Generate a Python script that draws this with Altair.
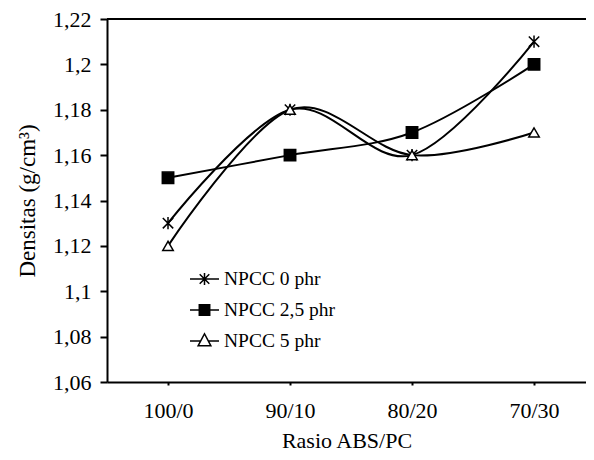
import altair as alt
import pandas as pd

categories = ["100/0", "90/10", "80/20", "70/30"]
series_names = ["NPCC 0 phr", "NPCC 2,5 phr", "NPCC 5 phr"]
npcc_0 = [1.13, 1.18, 1.16, 1.21]
npcc_25 = [1.15, 1.16, 1.17, 1.20]
npcc_5 = [1.12, 1.18, 1.16, 1.17]
y_ticks = [1.06, 1.08, 1.10, 1.12, 1.14, 1.16, 1.18, 1.20, 1.22]

rows = []
for name, vals in zip(series_names, [npcc_0, npcc_25, npcc_5]):
    for c, v in zip(categories, vals):
        rows.append({"ratio": c, "series": name, "legend_series": name, "density": v})
df = pd.DataFrame(rows)

FONT = "Liberation Serif"

asterisk = "M-0.85,-0.85L0.85,0.85M-0.85,0.85L0.85,-0.85M0,-1V1"
leg_asterisk = "M-1,0H1M-0.33,-0.33L0.33,0.33M-0.33,0.33L0.33,-0.33M0,-0.42V0.42"
leg_square = "M-1,0H-0.36M0.36,0H1M-0.36,-0.36H0.36V0.36H-0.36Z"
leg_triangle = "M-1,0H-0.27M0.27,0H1M0,-0.5L0.44,0.33L-0.44,0.33Z"

y_scale = alt.Scale(domain=[1.06, 1.22], nice=False, zero=False)

x_enc = alt.X(
    "ratio:N",
    sort=categories,
    scale=alt.Scale(type="point", padding=0.463, align=0.54),
    axis=alt.Axis(
        title="Rasio ABS/PC",
        labelAngle=0,
        tickSize=3,
        tickWidth=2,
        labelPadding=15,
        titlePadding=9,
        titleFontSize=22,
    ),
)
y_enc = alt.Y(
    "density:Q",
    scale=y_scale,
    axis=alt.Axis(
        title="Densitas (g/cm³)",
        values=y_ticks,
        labelExpr="replace(format(datum.value, '.2~f'), '.', ',')",
        tickSize=7,
        tickWidth=2,
        labelPadding=9,
        titlePadding=13,
        titleFontSize=23,
        grid=False,
    ),
)

base = alt.Chart(df)

lines = base.mark_line(interpolate="cardinal", color="black", strokeWidth=2).encode(
    x=x_enc, y=y_enc, detail="series:N"
)

points = base.mark_point(filled=False, stroke="black", strokeWidth=1.5, opacity=1).encode(
    x=x_enc,
    y=y_enc,
    shape=alt.Shape(
        "series:N",
        scale=alt.Scale(domain=series_names, range=[asterisk, "square", "triangle-up"]),
        legend=None,
    ),
    fill=alt.Fill(
        "series:N",
        scale=alt.Scale(domain=series_names, range=["black", "black", "white"]),
        legend=None,
    ),
    size=alt.Size(
        "series:N",
        scale=alt.Scale(domain=series_names, range=[150, 110, 115]),
        legend=None,
    ),
)

top_rule = alt.Chart(pd.DataFrame({"density": [y_ticks[-1]]})).mark_rule(
    color="black", strokeWidth=2
).encode(y=y_enc)

legend_layer = base.mark_point(
    filled=False, strokeWidth=1.5
).encode(
    x=x_enc,
    y=y_enc,
    opacity=alt.value(0),
    shape=alt.Shape(
        "legend_series:N",
        scale=alt.Scale(domain=series_names, range=[leg_asterisk, leg_square, leg_triangle]),
        legend=alt.Legend(
            title=None,
            orient="none",
            legendX=82,
            legendY=244.5,
            direction="vertical",
            symbolSize=841,
            symbolStrokeColor="black",
            symbolStrokeWidth=1.5,
            symbolOpacity=1,
            labelFont=FONT,
            labelFontSize=19.5,
            labelColor="black",
            labelOffset=4,
            rowPadding=6,
            padding=0,
        ),
    ),
    fill=alt.Fill(
        "legend_series:N",
        scale=alt.Scale(domain=series_names, range=["black", "black", "white"]),
    ),
    stroke=alt.Stroke(
        "legend_series:N",
        scale=alt.Scale(domain=series_names, range=["black", "black", "black"]),
    ),
)

chart = (
    alt.layer(lines, points, top_rule, legend_layer)
    .resolve_scale(shape="independent", fill="independent", stroke="independent")
    .properties(
        width=479,
        height=363,
        autosize=alt.AutoSizeParams(type="none"),
        padding={"left": 99, "top": 11, "right": 0, "bottom": 70},
    )
    .configure_view(stroke=None)
    .configure_axis(
        labelFont=FONT,
        titleFont=FONT,
        labelFontSize=22,
        titleFontWeight="normal",
        labelColor="black",
        titleColor="black",
        domainColor="black",
        tickColor="black",
        domainWidth=2,
    )
)

chart.save("out.html", embed_options={"renderer": "svg", "actions": False})
